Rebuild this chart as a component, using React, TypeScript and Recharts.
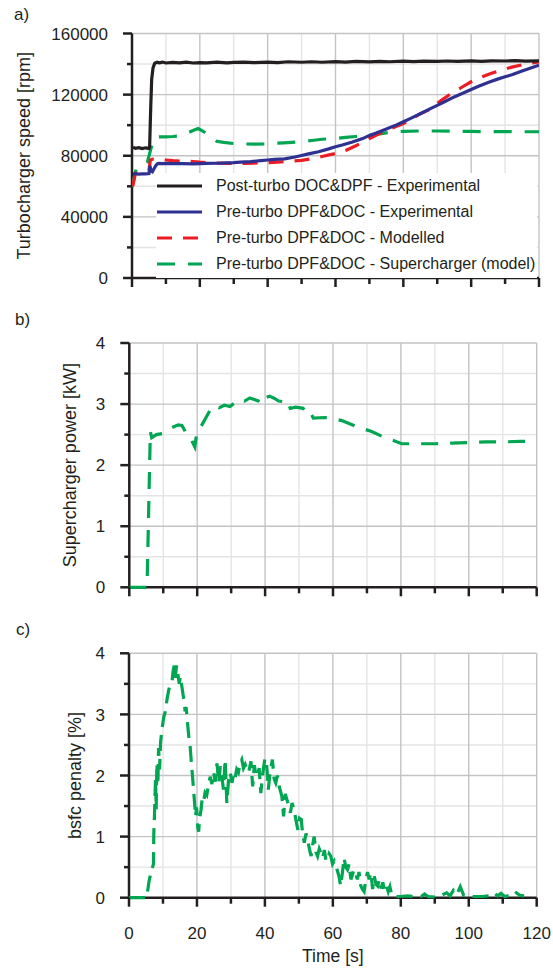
import React from "react";
import { LineChart, Line, XAxis, YAxis, ReferenceLine, Legend, Label } from "recharts";

const FONT = '"Liberation Sans", Arial, Helvetica, sans-serif';
const INK = "#231f20";
const GRID_MAJOR = "#c3c3c6";
const GRID_MINOR = "#e4e4e4";

// series (legend order)
const seriesNames = [
  "Post-turbo DOC&DPF - Experimental",
  "Pre-turbo DPF&DOC - Experimental",
  "Pre-turbo DPF&DOC - Modelled",
  "Pre-turbo DPF&DOC - Supercharger (model)",
];
const seriesColors = ["#231f20", "#2e3192", "#ed1c24", "#00a651"];
const seriesDash = ["", "", "15 11", "18 13"];

// axes
const timeTicks = [0, 10, 20, 30, 40, 50, 60, 70, 80, 90, 100, 110, 120];
const timeMajor = [0, 20, 40, 60, 80, 100, 120];
const speedTicks = [0, 20000, 40000, 60000, 80000, 100000, 120000, 140000, 160000];
const speedMajor = [0, 40000, 80000, 120000, 160000];
const unitTicks = [0, 0.5, 1, 1.5, 2, 2.5, 3, 3.5, 4];
const unitMajor = [0, 1, 2, 3, 4];

// a) turbocharger speed [rpm]
const aBlackTime = [0.3, 1, 2, 3, 4, 5, 5.2, 5.5, 5.8, 6.2, 6.7, 7.4, 8, 9, 10, 12, 14, 16, 18, 20, 22, 25, 28, 30, 33, 36, 40, 43, 46, 50, 53, 56, 60, 63, 66, 70, 73, 76, 80, 83, 86, 90, 93, 96, 100, 103, 106, 110, 113, 116, 120];
const aBlack = [85500, 84900, 85300, 84700, 85200, 84800, 86000, 110000, 130000, 137500, 140500, 141200, 140800, 141300, 140700, 141100, 140800, 141200, 140700, 141000, 140800, 141300, 140800, 141100, 141300, 140900, 141300, 141000, 141500, 141200, 141500, 141200, 141600, 141300, 141700, 141400, 141800, 141500, 141900, 141600, 141900, 141700, 142000, 141800, 142100, 141800, 142100, 142000, 142200, 141900, 142100];

const aBlueTime = [0.3, 1, 2, 3, 4, 5, 5.3, 5.6, 6, 6.5, 7, 7.5, 8, 9, 10, 12, 15, 18, 20, 22, 25, 28, 30, 32, 35, 38, 40, 42, 45, 48, 50, 52, 55, 58, 60, 62, 65, 68, 70, 72, 75, 78, 80, 82, 85, 88, 90, 92, 95, 98, 100, 102, 105, 108, 110, 112, 115, 118, 120];
const aBlue = [68000, 68300, 68000, 68200, 68100, 68300, 73500, 70000, 69500, 71500, 73500, 74800, 75000, 74800, 75000, 74800, 74900, 74700, 74900, 75000, 75100, 75300, 75500, 75800, 76200, 76800, 77200, 77600, 78000, 79200, 80200, 81200, 82600, 84500, 85900, 87000, 89000, 91200, 93300, 94900, 97500, 100200, 102200, 104300, 107500, 110800, 113000, 115200, 118500, 121400, 123400, 125300, 128000, 130300, 131700, 133000, 135400, 137700, 139300];

const aRedTime = [0.2, 1, 2, 3, 4, 5, 5.4, 6, 7, 8, 9, 10, 12, 14, 16, 18, 20, 22, 25, 28, 30, 33, 36, 40, 43, 46, 50, 53, 56, 60, 63, 66, 70, 73, 76, 80, 82, 85, 88, 91, 94, 97, 100, 103, 106, 109, 112, 115, 118, 120];
const aRed = [60000, 68500, 69000, 69500, 70000, 70500, 77000, 77800, 77600, 77500, 77400, 77200, 76800, 76500, 76400, 76200, 75800, 75500, 75200, 75000, 75000, 75000, 75200, 75500, 75800, 76300, 77000, 78000, 79500, 81500, 83500, 86500, 91300, 94500, 97500, 101000, 103500, 107500, 110500, 116000, 120500, 124500, 128400, 131500, 134000, 136200, 138000, 139500, 140800, 141500];

const aGreenTime = [0, 1.2, 2, 3, 4.5, 5.5, 6, 6.5, 7, 8, 10, 12, 14, 16, 18, 19.5, 21, 23, 25, 27, 30, 33, 36, 40, 43, 46, 50, 53, 56, 60, 63, 66, 70, 73, 76, 80, 85, 90, 95, 100, 105, 110, 115, 120];
const aGreen = [59500, 71000, 71500, 72500, 75500, 84000, 88000, 91500, 92200, 92400, 92400, 92600, 93000, 94500, 96500, 97800, 96000, 93000, 89500, 88800, 88000, 87700, 87600, 87700, 88200, 88600, 89200, 90000, 90800, 91300, 92000, 92600, 93300, 94300, 95300, 96000, 96200, 96200, 96000, 95900, 95800, 95800, 95700, 95700];

// b) supercharger power [kW]
const bTime = [0, 5.2, 5.3, 6.2, 6.6, 8, 10, 12, 14.4, 15.5, 16.5, 17.3, 18, 18.6, 19.3, 19.8, 21, 22.8, 24, 25.3, 26.5, 28, 29.7, 31, 32.6, 34, 35.5, 37, 38, 39, 40, 41.3, 42.5, 44, 45.3, 46.3, 47.4, 49, 51.2, 52.3, 53.2, 54.2, 57.6, 60, 62.6, 66.5, 71.4, 75.3, 78, 80.2, 85, 90, 95, 100, 105, 110, 115, 118.5];
const bPower = [0, 0, 0.2, 2.55, 2.45, 2.5, 2.52, 2.6, 2.66, 2.65, 2.55, 2.52, 2.45, 2.38, 2.3, 2.5, 2.62, 2.8, 2.92, 2.98, 2.94, 2.98, 2.96, 3.02, 3.08, 3.05, 3.1, 3.07, 3.05, 3.0, 3.1, 3.13, 3.1, 3.05, 3.04, 3.07, 2.93, 2.95, 2.93, 2.85, 2.88, 2.77, 2.78, 2.76, 2.73, 2.64, 2.55, 2.45, 2.4, 2.35, 2.35, 2.35, 2.36, 2.37, 2.38, 2.38, 2.39, 2.39];

// c) bsfc penalty [%]
const cTime = [
  0, 5.2, 5.9, 6.5, 7.2, 7.3, 7.5, 7.8, 8.0, 8.2,
  8.5, 8.7, 9.0, 9.3, 9.7, 10.2, 10.7, 11.2, 11.7, 12.2,
  12.7, 13.0, 13.3, 13.6, 14.0, 14.4, 14.8, 15.1, 15.5, 15.9,
  16.3, 16.5, 16.8, 17.1, 17.4, 17.7, 18.0, 18.3, 18.7, 19.0,
  19.3, 19.6, 19.9, 20.2, 20.5, 20.8, 21.2, 21.5, 21.9, 22.4,
  22.9, 23.4, 23.9, 24.4, 24.9, 25.4, 25.9, 26.4, 26.9, 27.4,
  27.8, 28.3, 28.8, 29.3, 29.8, 30.3, 30.8, 31.2, 31.7, 32.2,
  32.7, 33.2, 33.7, 34.2, 34.7, 35.2, 35.9, 36.4, 36.9, 37.3,
  37.8, 38.3, 38.8, 39.3, 40.0, 40.5, 41.0, 41.5, 42.2, 42.7,
  43.2, 43.7, 44.2, 45.0, 45.5, 46.0, 46.5, 47.0, 47.5, 48.0,
  48.6, 49.2, 49.7, 50.2, 50.7, 51.1, 51.6, 52.1, 52.6, 53.1,
  53.6, 54.0, 54.5, 55.0, 55.5, 56.0, 56.5, 57.0, 57.5, 58.0,
  58.4, 58.9, 59.4, 59.9, 60.4, 60.9, 61.3, 61.8, 62.3, 62.8,
  63.3, 63.8, 64.3, 64.8, 65.3, 65.8, 66.2, 66.7, 67.2, 67.7,
  68.2, 68.7, 69.2, 69.7, 70.2, 70.7, 71.2, 71.7, 72.2, 72.7,
  73.2, 73.7, 74.2, 74.7, 75.2, 75.8, 76.3, 76.8, 77.3, 78,
  80, 82, 84, 86, 87, 88, 90, 92, 93.5, 94.5,
  95.5, 96.5, 97.5, 98.5, 99.5, 101, 104, 106, 107.5, 108.5,
  109.5, 110.5, 111.5, 113, 114, 115, 116.3,
];
const cPenalty = [
  0, 0, 0.27, 0.42, 0.55, 1.05, 1.35, 1.95, 1.45, 2.2,
  1.85, 2.45, 2.1, 2.55, 2.75, 2.95, 3.05, 3.25, 3.4, 3.5,
  3.55, 3.72, 3.8, 3.6, 3.8, 3.65, 3.5, 3.62, 3.48, 3.33,
  3.2, 3.05, 3.12, 2.95, 2.75, 2.58, 2.47, 2.25, 1.98, 1.77,
  1.55, 1.33, 1.48, 1.17, 1.08, 1.3, 1.44, 1.6, 1.55, 1.72,
  1.68, 1.85, 1.98, 1.86, 2.05, 1.9, 2.2, 1.88, 2.15, 1.95,
  1.77, 2.26, 1.55, 1.93, 2.05, 1.88, 2.02, 1.95, 2.1, 2.05,
  2.2, 2.26, 2.12, 2.18, 2.1, 2.05, 2.23, 1.82, 2.17, 2.02,
  1.98, 2.12, 1.71, 2.0, 2.28, 2.2, 1.77, 2.04, 2.26, 1.95,
  1.88, 2.0, 1.82, 1.66, 1.33, 1.7, 1.6, 1.5, 1.39, 1.55,
  1.44, 1.25, 1.11, 1.3, 1.28, 1.05, 0.9, 1.05, 0.95, 0.8,
  0.68, 0.85, 1.0, 0.75, 0.68, 0.8, 0.73, 0.65, 0.78, 0.6,
  0.63, 0.72, 0.68, 0.55, 0.6, 0.52, 0.45, 0.35, 0.19, 0.4,
  0.65, 0.5, 0.46, 0.55, 0.3, 0.38, 0.46, 0.4, 0.3, 0.42,
  0.2, 0.14, 0.1, 0.3, 0.42, 0.3, 0.41, 0.14, 0.35, 0.22,
  0.19, 0.3, 0.15, 0.25, 0.12, 0.2, 0.1, 0.18, 0.05, 0.02,
  0.02, 0.03, 0.02, 0.02, 0.06, 0.02, 0.01, 0.04, 0.08, 0.03,
  0.12, 0.05, 0.18, 0.04, 0.03, 0.02, 0.02, 0.03, 0.08, 0.03,
  0.07, 0.02, 0.03, 0.02, 0.08, 0.04, 0.03,
];

const rows = (ts: number[], vs: number[]) => ts.map((t, i) => ({ t, v: vs[i] }));

const YTick = (props: any) => {
  const { x, y, payload, majors } = props;
  const major = majors.includes(payload.value);
  return (
    <g>
      <line x1={x - (major ? 9 : 5)} x2={x} y1={y} y2={y} stroke={INK} strokeWidth={2.5} />
      {major ? (
        <text x={x - 24} y={y} dy="0.36em" textAnchor="end" fontSize={17} fontFamily={FONT} fill={INK}>
          {payload.value}
        </text>
      ) : null}
    </g>
  );
};

const XTick = (props: any) => {
  const { x, y, payload, labelled } = props;
  const major = timeMajor.includes(payload.value);
  return (
    <g>
      <line x1={x} x2={x} y1={y} y2={y + (major ? 9 : 6)} stroke={INK} strokeWidth={2.5} />
      {labelled && major ? (
        <text x={x} y={y + 41} textAnchor="middle" fontSize={17} fontFamily={FONT} fill={INK}>
          {payload.value}
        </text>
      ) : null}
    </g>
  );
};

const YTitle = (props: any) => {
  const { viewBox, value, cx } = props;
  const cy = viewBox.y + viewBox.height / 2;
  return (
    <text x={cx} y={cy} dy="0.36em" textAnchor="middle" transform={`rotate(-90 ${cx} ${cy})`} fontSize={18} fontFamily={FONT} fill={INK}>
      {value}
    </text>
  );
};

const XTitle = (props: any) => {
  const { viewBox, value } = props;
  return (
    <text x={viewBox.x + viewBox.width / 2} y={viewBox.y + 64} textAnchor="middle" fontSize={17.5} fontFamily={FONT} fill={INK}>
      {value}
    </text>
  );
};

const LegendBox = (props: any) => {
  const items = (props.payload || []).slice().sort(
    (a: any, b: any) => seriesNames.indexOf(a.value) - seriesNames.indexOf(b.value)
  );
  return (
    <div style={{ background: "#fff", width: 381, height: 105 }}>
      {items.map((it: any) => {
        const i = seriesNames.indexOf(it.value);
        return (
          <div key={it.value} style={{ display: "flex", alignItems: "center", height: 26 }}>
            <svg width={60} height={26}>
              <line x1={1} x2={46} y1={13} y2={13} stroke={seriesColors[i]} strokeWidth={3.2}
                strokeDasharray={seriesDash[i] || undefined} />
            </svg>
            <span style={{ fontSize: 16, fontFamily: FONT, color: INK, whiteSpace: "nowrap" }}>{it.value}</span>
          </div>
        );
      })}
    </div>
  );
};

const grid = (yTicks: number[], yMajor: number[]) => [
  ...timeTicks.filter((v) => !timeMajor.includes(v)).map((v) => (
    <ReferenceLine key={"xm" + v} x={v} stroke={GRID_MINOR} strokeWidth={1.4} zIndex={-10} />
  )),
  ...yTicks.filter((v) => !yMajor.includes(v)).map((v) => (
    <ReferenceLine key={"ym" + v} y={v} stroke={GRID_MINOR} strokeWidth={1.4} zIndex={-10} />
  )),
  ...timeMajor.filter((v) => v > 0).map((v) => (
    <ReferenceLine key={"xM" + v} x={v} stroke={GRID_MAJOR} strokeWidth={1.4} zIndex={-5} />
  )),
  ...yMajor.filter((v) => v > 0).map((v) => (
    <ReferenceLine key={"yM" + v} y={v} stroke={GRID_MAJOR} strokeWidth={1.4} zIndex={-5} />
  )),
];

const axisLine = { stroke: INK, strokeWidth: 2.5 };

export default function App() {
  return (
    <div style={{ position: "absolute", left: 0, top: 0, width: 553, height: 968, background: "#fff", fontFamily: FONT }}>
      {/* a) */}
      <div style={{ position: "absolute", left: 0, top: 0 }}>
        <LineChart width={553} height={300} margin={{ top: 33.5, right: 14, bottom: 0, left: 0 }}>
          {grid(speedTicks, speedMajor)}
          <XAxis type="number" dataKey="t" domain={[0, 120]} ticks={timeTicks} interval={0} height={22}
            tickSize={0} tickMargin={0} axisLine={axisLine} tickLine={false}
            tick={(p: any) => <XTick {...p} labelled={false} />} allowDataOverflow />
          <YAxis type="number" domain={[0, 160000]} ticks={speedTicks} interval={0} width={132}
            tickSize={0} tickMargin={0} axisLine={axisLine} tickLine={false}
            tick={(p: any) => <YTick {...p} majors={speedMajor} />}
            label={<Label content={(p: any) => <YTitle {...p} value="Turbocharger speed [rpm]" cx={24} />} />} />
          <Line data={rows(aGreenTime, aGreen)} dataKey="v" name={seriesNames[3]} stroke={seriesColors[3]}
            strokeWidth={3.2} strokeDasharray={seriesDash[3]} dot={false} isAnimationActive={false} zIndex={600} />
          <Line data={rows(aRedTime, aRed)} dataKey="v" name={seriesNames[2]} stroke={seriesColors[2]}
            strokeWidth={3.2} strokeDasharray={seriesDash[2]} dot={false} isAnimationActive={false} zIndex={600} />
          <Line data={rows(aBlueTime, aBlue)} dataKey="v" name={seriesNames[1]} stroke={seriesColors[1]}
            strokeWidth={3.2} dot={false} isAnimationActive={false} zIndex={600} />
          <Line data={rows(aBlackTime, aBlack)} dataKey="v" name={seriesNames[0]} stroke={seriesColors[0]}
            strokeWidth={3.2} dot={false} isAnimationActive={false} zIndex={600} />
          <Legend layout="vertical" align="center" verticalAlign="middle" content={<LegendBox />}
            wrapperStyle={{ left: 156, top: 173, width: 381, height: 105 }} />
        </LineChart>
      </div>

      {/* b) */}
      <div style={{ position: "absolute", left: 0, top: 300 }}>
        <LineChart width={553} height={310} margin={{ top: 43, right: 16.3, bottom: 0, left: 0 }}>
          {grid(unitTicks, unitMajor)}
          <XAxis type="number" dataKey="t" domain={[0, 120]} ticks={timeTicks} interval={0} height={22.7}
            tickSize={0} tickMargin={0} axisLine={axisLine} tickLine={false}
            tick={(p: any) => <XTick {...p} labelled={false} />} allowDataOverflow />
          <YAxis type="number" domain={[0, 4]} ticks={unitTicks} interval={0} width={129.3}
            tickSize={0} tickMargin={0} axisLine={axisLine} tickLine={false}
            tick={(p: any) => <YTick {...p} majors={unitMajor} />}
            label={<Label content={(p: any) => <YTitle {...p} value="Supercharger power [kW]" cx={70} />} />} />
          <Line data={rows(bTime, bPower)} dataKey="v" name="Supercharger power" stroke={seriesColors[3]}
            strokeWidth={3.2} strokeDasharray="17 12" dot={false} isAnimationActive={false} zIndex={600} />
        </LineChart>
      </div>

      {/* c) */}
      <div style={{ position: "absolute", left: 0, top: 610 }}>
        <LineChart width={553} height={358} margin={{ top: 43.3, right: 16.3, bottom: 0, left: 0 }}>
          {grid(unitTicks, unitMajor)}
          <XAxis type="number" dataKey="t" domain={[0, 120]} ticks={timeTicks} interval={0} height={70.3}
            tickSize={0} tickMargin={0} axisLine={axisLine} tickLine={false}
            tick={(p: any) => <XTick {...p} labelled />} allowDataOverflow
            label={<Label content={(p: any) => <XTitle {...p} value="Time [s]" />} />} />
          <YAxis type="number" domain={[0, 4]} ticks={unitTicks} interval={0} width={129}
            tickSize={0} tickMargin={0} axisLine={axisLine} tickLine={false}
            tick={(p: any) => <YTick {...p} majors={unitMajor} />}
            label={<Label content={(p: any) => <YTitle {...p} value="bsfc penalty [%]" cx={74.5} />} />} />
          <Line data={rows(cTime, cPenalty)} dataKey="v" name="bsfc penalty" stroke={seriesColors[3]}
            strokeWidth={3.2} strokeDasharray="16 8" dot={false} isAnimationActive={false} zIndex={600} />
        </LineChart>
      </div>

      <svg width={553} height={968} style={{ position: "absolute", left: 0, top: 0, pointerEvents: "none" }}>
        <text x={14} y={20} fontSize={17} fontFamily={FONT} fill={INK}>a)</text>
        <text x={15} y={325} fontSize={17} fontFamily={FONT} fill={INK}>b)</text>
        <text x={16} y={635} fontSize={17} fontFamily={FONT} fill={INK}>c)</text>
      </svg>
    </div>
  );
}
